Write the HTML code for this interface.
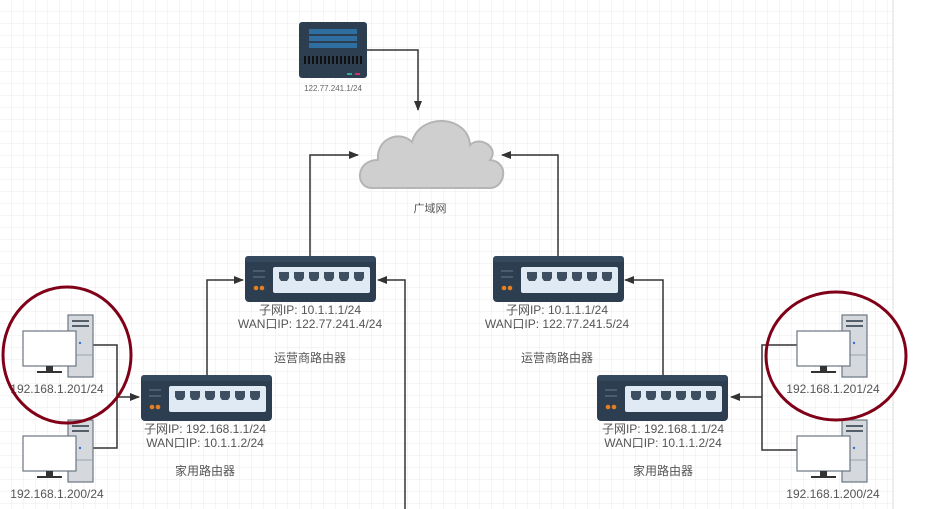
<!DOCTYPE html>
<html><head><meta charset="utf-8"><style>
body{margin:0;background:#fff}
svg{display:block;font-family:"Liberation Sans","Noto Sans CJK SC",sans-serif}
</style></head><body>
<svg width="950" height="509" viewBox="0 0 950 509" xmlns="http://www.w3.org/2000/svg">
<defs>
<pattern id="g" width="12" height="12" patternUnits="userSpaceOnUse"><path d="M12 0V12H0" fill="none" stroke="#ebebeb" stroke-width="1"/></pattern>
<marker id="a" markerWidth="10" markerHeight="8" refX="9" refY="4" orient="auto" markerUnits="userSpaceOnUse"><path d="M0 0L10 4L0 8z" fill="#333"/></marker>
<g id="rt">
<rect x="0" y="0" width="131" height="46" rx="4" fill="#2c3e50"/>
<rect x="0" y="0" width="131" height="6" rx="3" fill="#34495e"/>
<rect x="8" y="14" width="12" height="2" fill="#4a5d70"/><rect x="8" y="20" width="12" height="2" fill="#4a5d70"/>
<circle cx="11" cy="32" r="2.3" fill="#e67e22"/><circle cx="17" cy="32" r="2.3" fill="#e67e22"/>
<rect x="28" y="11" width="97" height="26" rx="2" fill="#dfeaf5"/>
<g fill="#3d4f60"><path d="M34 16h10v6l-2 3h-6l-2-3z"/><path d="M49 16h10v6l-2 3h-6l-2-3z"/><path d="M64 16h10v6l-2 3h-6l-2-3z"/><path d="M79 16h10v6l-2 3h-6l-2-3z"/><path d="M94 16h10v6l-2 3h-6l-2-3z"/><path d="M109 16h10v6l-2 3h-6l-2-3z"/></g>
</g>
<g id="pc">
<rect x="45" y="0" width="25" height="62" fill="#d5d9de" stroke="#6b7680" stroke-width="1.2"/>
<rect x="49" y="5" width="17" height="2" fill="#55606a"/><rect x="49" y="10" width="17" height="2" fill="#55606a"/>
<line x1="45" y1="40" x2="70" y2="40" stroke="#9aa2aa"/>
<circle cx="57" cy="28" r="1.2" fill="#3a6fd0"/>
<rect x="0" y="16" width="53" height="35" fill="#fff" stroke="#6b7680" stroke-width="1.2"/>
<rect x="23" y="51" width="7" height="5" fill="#333"/><rect x="14" y="56" width="25" height="2" fill="#333"/>
</g>
</defs>
<rect width="950" height="509" fill="url(#g)"/>
<rect x="894" y="0" width="56" height="509" fill="#fff"/>
<line x1="893" y1="0" x2="893" y2="509" stroke="#ddd"/>

<rect x="299" y="22" width="68" height="56" rx="3" fill="#2c3e50"/>
<rect x="309" y="29" width="48" height="5" fill="#2f6ea0"/><rect x="309" y="36" width="48" height="5" fill="#2f6ea0"/><rect x="309" y="43" width="48" height="5" fill="#2f6ea0"/>
<line x1="304" y1="60" x2="362" y2="60" stroke="#111" stroke-dasharray="2 2" stroke-width="8"/>
<rect x="347" y="73" width="5" height="2" fill="#3a9"/><rect x="355" y="73" width="5" height="2" fill="#c36"/>
<text x="333" y="91" font-size="8" fill="#666" text-anchor="middle">122.77.241.1/24</text>
<polyline points="367,50 418,50 418,110" fill="none" stroke="#333" stroke-width="1.5" marker-end="url(#a)"/>

<path d="M372 188 C355 188 355 160 378 160 C376 138 400 130 412 142 C420 112 468 115 470 145 C480 135 500 148 490 160 C510 162 505 188 490 188 Z" fill="#cfcfcf" stroke="#b5b5b5" stroke-width="2"/>
<text x="430" y="212" font-size="11" fill="#555" text-anchor="middle">广域网</text>

<use href="#rt" x="245" y="256"/>
<use href="#rt" x="493" y="256"/>
<use href="#rt" x="141" y="375"/>
<use href="#rt" x="597" y="375"/>

<g font-size="12" fill="#555" text-anchor="middle">
<text x="310" y="314">子网IP:  10.1.1.1/24</text>
<text x="310" y="328">WAN口IP: 122.77.241.4/24</text>
<text x="310" y="362">运营商路由器</text>
<text x="557" y="314">子网IP:  10.1.1.1/24</text>
<text x="557" y="328">WAN口IP: 122.77.241.5/24</text>
<text x="557" y="362">运营商路由器</text>
<text x="205" y="433">子网IP:  192.168.1.1/24</text>
<text x="205" y="447">WAN口IP: 10.1.1.2/24</text>
<text x="205" y="475">家用路由器</text>
<text x="663" y="433">子网IP:  192.168.1.1/24</text>
<text x="663" y="447">WAN口IP: 10.1.1.2/24</text>
<text x="663" y="475">家用路由器</text>
<text x="57" y="393">192.168.1.201/24</text>
<text x="57" y="498">192.168.1.200/24</text>
<text x="833" y="393">192.168.1.201/24</text>
<text x="833" y="498">192.168.1.200/24</text>
</g>

<g fill="none" stroke="#333" stroke-width="1.5">
<polyline points="310,256 310,155 358,155" marker-end="url(#a)"/>
<polyline points="558,256 558,155 502,155" marker-end="url(#a)"/>
<polyline points="405,509 405,280 378,280" marker-end="url(#a)"/>
<polyline points="663,375 663,280 625,280" marker-end="url(#a)"/>
<polyline points="207,375 207,280 243,280" marker-end="url(#a)"/>
<polyline points="93,345 117,345 117,448 93,448"/>
<polyline points="117,397 139,397" marker-end="url(#a)"/>
<polyline points="797,345 762,345 762,450 797,450"/>
<polyline points="762,397 731,397" marker-end="url(#a)"/>
</g>

<use href="#pc" x="23" y="315"/>
<use href="#pc" x="23" y="420"/>
<use href="#pc" x="797" y="315"/>
<use href="#pc" x="797" y="420"/>

<ellipse cx="67" cy="355" rx="64" ry="68" fill="none" stroke="#800018" stroke-width="3"/>
<ellipse cx="836" cy="356" rx="70" ry="64" fill="none" stroke="#800018" stroke-width="3"/>
</svg>
</body></html>
